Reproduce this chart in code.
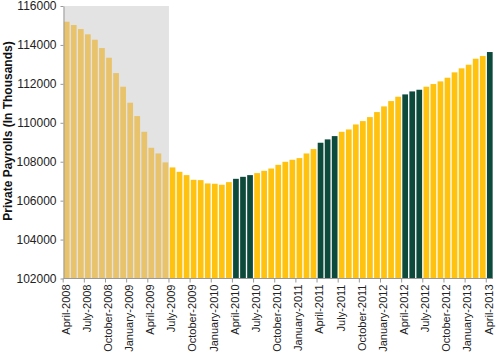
<!DOCTYPE html>
<html lang="en">
  <head>
    <meta charset="UTF-8" />
    <title>Private Payrolls</title>
    <style>
      body {
        margin: 0;
        background: #fff;
      }
      .axis text {
        font-family: "Liberation Sans", Arial, sans-serif;
        font-size: 11px;
        fill: #222;
      }
      .axis path,
      .axis line {
        stroke: #999;
      }
      .axis-title {
        font-family: "Liberation Sans", Arial, sans-serif;
        font-size: 12px;
        font-weight: bold;
        fill: #111;
        text-anchor: middle;
      }
    </style>
  </head>
  <body>
    <script src="https://d3js.org/d3.v7.min.js"></script>
    <script>
      const months = [
        "April-2008", "May-2008", "June-2008", "July-2008", "August-2008", "September-2008",
        "October-2008", "November-2008", "December-2008", "January-2009", "February-2009", "March-2009",
        "April-2009", "May-2009", "June-2009", "July-2009", "August-2009", "September-2009",
        "October-2009", "November-2009", "December-2009", "January-2010", "February-2010", "March-2010",
        "April-2010", "May-2010", "June-2010", "July-2010", "August-2010", "September-2010",
        "October-2010", "November-2010", "December-2010", "January-2011", "February-2011", "March-2011",
        "April-2011", "May-2011", "June-2011", "July-2011", "August-2011", "September-2011",
        "October-2011", "November-2011", "December-2011", "January-2012", "February-2012", "March-2012",
        "April-2012", "May-2012", "June-2012", "July-2012", "August-2012", "September-2012",
        "October-2012", "November-2012", "December-2012", "January-2013", "February-2013", "March-2013",
        "April-2013",
      ];

      // private payrolls, thousands
      const payrolls = [
        115193, 115023, 114817, 114545, 114267, 113840,
        113343, 112555, 111852, 111030, 110345, 109537,
        108715, 108427, 107964, 107707, 107481, 107311,
        107070, 107054, 106884, 106867, 106816, 106951,
        107121, 107224, 107311, 107414, 107532, 107650,
        107839, 107995, 108100, 108185, 108424, 108650,
        108975, 109147, 109316, 109537, 109657, 109914,
        110087, 110292, 110550, 110842, 111115, 111338,
        111458, 111612, 111697, 111852, 111990, 112127,
        112315, 112590, 112797, 112982, 113291, 113429,
        113635,
      ];

      // recession shading: April-2008 .. June-2009
      const recession = ["April-2008", "June-2009"];
      // spring months highlighted
      const highlight = [
        "April-2010", "May-2010", "June-2010",
        "April-2011", "May-2011", "June-2011",
        "April-2012", "May-2012", "June-2012",
        "April-2013",
      ];
      const yTicks = [102000, 104000, 106000, 108000, 110000, 112000, 114000, 116000];

      const width = 500;
      const height = 359;
      const margin = { top: 6, right: 7, bottom: 80.5, left: 63.5 };

      const svg = d3
        .select("body")
        .append("svg")
        .attr("width", width)
        .attr("height", height);

      const x = d3
        .scaleBand()
        .domain(months)
        .range([margin.left, width - margin.right])
        .paddingInner(0.19)
        .paddingOuter(0.05);

      const y = d3
        .scaleLinear()
        .domain([102000, 116000])
        .range([height - margin.bottom, margin.top]);

      const step = x.step();
      const recStart = margin.left;
      const recEnd = x(recession[1]) + x.bandwidth() + (step - x.bandwidth()) / 2;
      const recIdx = months.indexOf(recession[1]);

      svg
        .append("rect")
        .attr("x", recStart)
        .attr("y", y(116000))
        .attr("width", recEnd - recStart)
        .attr("height", y(102000) - y(116000))
        .attr("fill", "#e3e3e3");

      svg
        .append("g")
        .selectAll("rect")
        .data(months)
        .join("rect")
        .attr("x", (d) => x(d))
        .attr("y", (d, i) => y(payrolls[i]))
        .attr("width", x.bandwidth())
        .attr("height", (d, i) => y(102000) - y(payrolls[i]))
        .attr("fill", (d, i) =>
          i <= recIdx ? "#e8c36c" : highlight.includes(d) ? "#0d4a3b" : "#ffc20e"
        );

      const yAxis = d3
        .axisLeft(y)
        .tickValues(yTicks)
        .tickFormat(d3.format("d"))
        .tickSizeInner(3)
        .tickSizeOuter(0)
        .tickPadding(4);

      svg
        .append("g")
        .attr("class", "axis")
        .attr("transform", `translate(${margin.left}, 0)`)
        .call(yAxis)
        .call((g) => g.selectAll("text").style("font-size", "12px"));

      // ticks every 3 months on category boundaries
      const labeled = months.filter((d, i) => i % 3 === 0);

      const xg = svg
        .append("g")
        .attr("class", "axis")
        .attr("transform", `translate(0, ${y(102000)})`);

      xg.append("line")
        .attr("x1", margin.left)
        .attr("x2", width - margin.right)
        .attr("stroke", "#999");

      xg.selectAll(".tick-mark")
        .data(labeled)
        .join("line")
        .attr("class", "tick-mark")
        .attr("x1", (d) => x(d) - (step - x.bandwidth()) / 2)
        .attr("x2", (d) => x(d) - (step - x.bandwidth()) / 2)
        .attr("y1", 0)
        .attr("y2", 4)
        .attr("stroke", "#999");

      xg.selectAll("text")
        .data(labeled)
        .join("text")
        .attr("transform", (d) => `translate(${x(d) + x.bandwidth() / 2 - 1}, 6) rotate(-90)`)
        .attr("dy", "0.35em")
        .attr("text-anchor", "end")
        .text((d) => d);

      svg
        .append("text")
        .attr("class", "axis-title")
        .attr("transform", `translate(8, 131) rotate(-90)`)
        .attr("dy", "0.35em")
        .text("Private Payrolls (In Thousands)");
    </script>
  </body>
</html>
